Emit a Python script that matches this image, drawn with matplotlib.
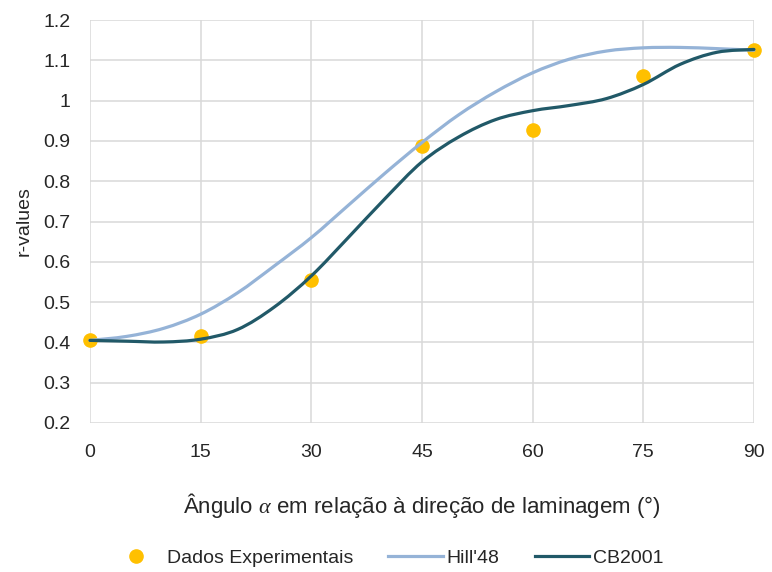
import matplotlib
matplotlib.use("Agg")
import matplotlib.pyplot as plt
import numpy as np
from matplotlib.path import Path
from matplotlib.patches import PathPatch
from matplotlib.lines import Line2D

plt.rcParams["font.family"] = ["Liberation Sans", "DejaVu Sans"]
plt.rcParams["mathtext.fontset"] = "custom"
plt.rcParams["mathtext.it"] = "Liberation Serif:italic"

# measured r-values
exp_angles = [0, 15, 30, 45, 60, 75, 90]
exp_r = [0.405, 0.415, 0.555, 0.888, 0.927, 1.060, 1.125]

# model predictions, sampled every 5 degrees
model_angles = [0, 5, 10, 15, 20, 25, 30, 35, 40, 45, 50, 55, 60, 65, 70, 75, 80, 85, 90]
hill48_r = [0.405, 0.415, 0.435, 0.470, 0.523, 0.590, 0.660, 0.740, 0.820, 0.896,
            0.965, 1.022, 1.069, 1.103, 1.123, 1.131, 1.132, 1.129, 1.125]
cb2001_r = [0.405, 0.403, 0.401, 0.408, 0.432, 0.488, 0.565, 0.660, 0.757, 0.848,
            0.910, 0.953, 0.975, 0.988, 1.005, 1.040, 1.090, 1.120, 1.127]

x_ticks = [0, 15, 30, 45, 60, 75, 90]
y_ticks = [0.2, 0.3, 0.4, 0.5, 0.6, 0.7, 0.8, 0.9, 1.0, 1.1, 1.2]
y_ticklabels = ["0.2", "0.3", "0.4", "0.5", "0.6", "0.7", "0.8", "0.9", "1", "1.1", "1.2"]

GOLD = "#FFC000"
HILL = "#95B3D7"
CB = "#215968"
TEXT = "#262626"


def smooth_path(xs, ys):
    """Catmull-Rom style bezier through the sample points."""
    p = np.column_stack([xs, ys]).astype(float)
    ext = np.vstack([p[0], p, p[-1]])
    verts = [p[0]]
    codes = [Path.MOVETO]
    for i in range(1, len(ext) - 2):
        p0, p1, p2, p3 = ext[i - 1], ext[i], ext[i + 1], ext[i + 2]
        c1 = p1 + (p2 - p0) / 6.0
        c2 = p2 - (p3 - p1) / 6.0
        verts += [c1, c2, p2]
        codes += [Path.CURVE4] * 3
    return Path(verts, codes)


fig = plt.figure(figsize=(7.72, 5.72), dpi=100)
ax = fig.add_axes([0.1166, 0.2605, 0.86, 0.7045])

ax.set_xlim(0, 90)
ax.set_ylim(0.2, 1.2)
ax.set_xticks(x_ticks)
ax.set_yticks(y_ticks)
ax.set_yticklabels(y_ticklabels)
ax.grid(True, color="#D9D9D9", lw=1.1)
ax.set_axisbelow(True)
for s in ax.spines.values():
    s.set_visible(False)
ax.tick_params(length=0, labelsize=14, colors=TEXT)
ax.tick_params(axis="x", pad=15)
ax.tick_params(axis="y", pad=14)

ax.plot(exp_angles, exp_r, "o", color=GOLD, ms=9.5, zorder=2, clip_on=False)
for ys, col in [(hill48_r, HILL), (cb2001_r, CB)]:
    ax.add_patch(PathPatch(smooth_path(model_angles, ys), fill=False,
                           edgecolor=col, lw=2.3, zorder=3, clip_on=False,
                           capstyle="round"))

ax.set_ylabel("r-values", fontsize=14, color=TEXT, labelpad=8)
ax.set_xlabel(r"Ângulo $\alpha$ em relação à direção de laminagem (°)",
              fontsize=16, color=TEXT, labelpad=22)

handles = [
    Line2D([], [], ls="none", marker="o", color=GOLD, ms=9.5),
    Line2D([], [], color=HILL, lw=2.3),
    Line2D([], [], color=CB, lw=2.3),
]
fig.legend(handles, ["Dados Experimentais", "Hill'48", "CB2001"],
           loc="center", bbox_to_anchor=(0.5, 0.025), ncol=3, frameon=False,
           fontsize=14, handlelength=2.8, handletextpad=0.2, columnspacing=1.8,
           labelcolor=TEXT)

fig.savefig("out.png", dpi=100, facecolor="white")
